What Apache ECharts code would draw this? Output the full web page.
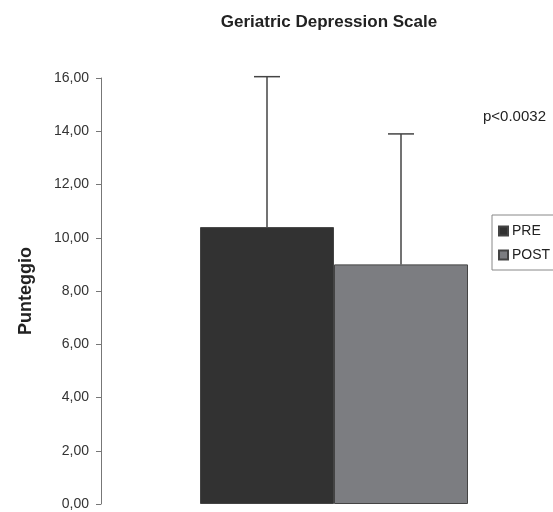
<!DOCTYPE html>
<html>
<head>
<meta charset="utf-8">
<script src="https://cdn.jsdelivr.net/npm/echarts@6/dist/echarts.min.js"></script>
<style>html,body{margin:0;padding:0;background:#fff;}#c{width:553px;height:512px;}</style>
</head>
<body>
<div id="c"></div>
<script>
var categories = ["GDS"];
var seriesNames = ["PRE", "POST"];
var preValues = [10.4];
var postValues = [9.0];
var preUpper = [16.05];
var postUpper = [13.9];
var yTicks = [0, 2, 4, 6, 8, 10, 12, 14, 16];

var chart = echarts.init(document.getElementById('c'), null, {renderer: 'canvas'});
var BAR_W = 134;

function errRender(offsetSign) {
  return function (params, api) {
    var idx = api.value(0);
    var base = api.coord([idx, api.value(1)]);
    var top = api.coord([idx, api.value(2)]);
    var x = base[0] + offsetSign * BAR_W / 2;
    var cap = 13;
    var style = {stroke: '#444', lineWidth: 1.5, fill: null};
    return {
      type: 'group',
      children: [
        {type: 'line', shape: {x1: x, y1: base[1], x2: x, y2: top[1]}, style: style},
        {type: 'line', shape: {x1: x - cap, y1: top[1], x2: x + cap, y2: top[1]}, style: style}
      ]
    };
  };
}

var option = {
  animation: false,
  backgroundColor: '#fff',
  title: {
    text: 'Geriatric Depression Scale',
    left: 324, top: 9, textAlign: 'center',
    textStyle: {fontFamily: 'Liberation Sans', fontSize: 17, fontWeight: 'bold', color: '#222'}
  },
  legend: {
    orient: 'vertical',
    left: 492, top: 215,
    data: seriesNames,
    icon: 'rect',
    itemWidth: 9, itemHeight: 9, itemGap: 10,
    padding: [9, 20, 8, 6],
    borderColor: '#888', borderWidth: 1,
    textStyle: {fontFamily: 'Liberation Sans', fontSize: 14, color: '#222', padding: [0, 0, 0, -1]}
  },
  graphic: [{
    type: 'text', left: 483, top: 109,
    style: {text: 'p<0.0032', font: '15px "Liberation Sans"', fill: '#222'}
  }],
  grid: {left: 101, top: 78, width: 466, height: 426, outerBoundsMode: 'none', containLabel: false},
  xAxis: {
    type: 'category', data: categories, show: false
  },
  yAxis: {
    type: 'value', min: yTicks[0], max: yTicks[yTicks.length - 1], interval: 2,
    name: 'Punteggio', nameLocation: 'middle', nameGap: 66, nameMoveOverlap: false,
    nameTextStyle: {fontFamily: 'Liberation Sans', fontSize: 18, fontWeight: 'bold', color: '#222'},
    axisLine: {show: true, lineStyle: {color: '#777', width: 1}},
    axisTick: {show: true, length: 5, lineStyle: {color: '#777'}},
    splitLine: {show: false},
    axisLabel: {
      margin: 12, fontFamily: 'Liberation Sans', fontSize: 14, color: '#333',
      formatter: function (v) { return v.toFixed(2).replace('.', ','); }
    }
  },
  series: [
    {name: 'PRE', type: 'bar', data: preValues, barWidth: BAR_W, barGap: '0%',
     itemStyle: {color: '#323232', borderColor: '#444', borderWidth: 1}},
    {name: 'POST', type: 'bar', data: postValues, barWidth: BAR_W, barGap: '0%',
     itemStyle: {color: '#7c7d81', borderColor: '#444', borderWidth: 1}},
    {type: 'custom', renderItem: errRender(-1), z: 5,
     data: categories.map(function (c, i) { return [i, preValues[i], preUpper[i]]; })},
    {type: 'custom', renderItem: errRender(1), z: 5,
     data: categories.map(function (c, i) { return [i, postValues[i], postUpper[i]]; })}
  ]
};
chart.setOption(option);
</script>
</body>
</html>
